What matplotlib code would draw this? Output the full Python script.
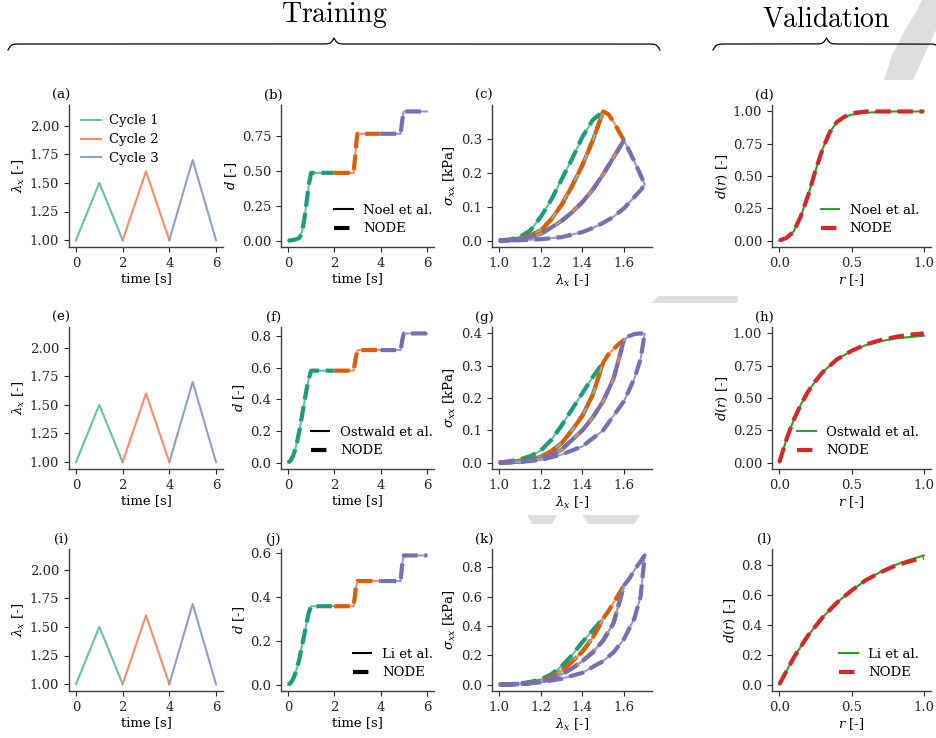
import numpy as np
import matplotlib
matplotlib.use("Agg")
import matplotlib.pyplot as plt
from matplotlib.lines import Line2D
from matplotlib.patches import Polygon

# ------------------------------------------------------------------ data
cycle_labels = ["Cycle 1", "Cycle 2", "Cycle 3"]
model_names = ["Noel et al.", "Ostwald et al.", "Li et al."]
panel_letters = [["(a)", "(b)", "(c)", "(d)"],
                 ["(e)", "(f)", "(g)", "(h)"],
                 ["(i)", "(j)", "(k)", "(l)"]]

# stretch protocol (col 1)
t_cyc = [[0, 1, 2], [2, 3, 4], [4, 5, 6]]
lam_cyc = [[1.0, 1.5, 1.0], [1.0, 1.6, 1.0], [1.0, 1.7, 1.0]]

# damage vs time (col 2)
t_c1 = [0, 0.1, 0.2, 0.3, 0.4, 0.5, 0.6, 0.7, 0.8, 0.9, 1.0, 2.0]
t_c2 = [2.0, 2.83, 2.88, 2.93, 2.97, 3.0, 4.0]
t_c3 = [4.0, 4.86, 4.9, 4.94, 4.97, 5.0, 6.0]

d_noel_c1 = [0, 0.001, 0.003, 0.007, 0.012, 0.02, 0.06, 0.145, 0.27, 0.40, 0.485, 0.485]
d_noel_c2 = [0.485, 0.485, 0.57, 0.66, 0.73, 0.765, 0.765]
d_noel_c3 = [0.765, 0.765, 0.82, 0.87, 0.905, 0.925, 0.925]

d_ost_c1 = [0, 0.01, 0.035, 0.075, 0.135, 0.205, 0.29, 0.375, 0.46, 0.53, 0.58, 0.58]
d_ost_c2 = [0.58, 0.58, 0.62, 0.665, 0.695, 0.71, 0.71]
d_ost_c3 = [0.71, 0.71, 0.745, 0.78, 0.80, 0.815, 0.815]

d_li_c1 = [0, 0.005, 0.02, 0.045, 0.08, 0.12, 0.175, 0.225, 0.28, 0.33, 0.358, 0.358]
d_li_c2 = [0.358, 0.358, 0.40, 0.44, 0.462, 0.473, 0.473]
d_li_c3 = [0.473, 0.473, 0.52, 0.56, 0.58, 0.59, 0.59]

# stress vs stretch (col 3)
lam_to15 = [1.0, 1.05, 1.1, 1.15, 1.2, 1.25, 1.3, 1.35, 1.4, 1.45, 1.5]
lam_15_16 = [1.5, 1.525, 1.55, 1.575, 1.6]
lam_to16 = [1.0, 1.05, 1.1, 1.15, 1.2, 1.25, 1.3, 1.35, 1.4, 1.45, 1.5, 1.55, 1.6]
lam_16_17 = [1.6, 1.625, 1.65, 1.675, 1.7]
lam_unl3 = [1.0, 1.1, 1.2, 1.3, 1.4, 1.45, 1.5, 1.55, 1.6, 1.65, 1.68, 1.7]

s_noel_A = [0, 0.003, 0.011, 0.03, 0.07, 0.12, 0.18, 0.24, 0.305, 0.355, 0.38]
s_noel_B = [0, 0.001, 0.005, 0.015, 0.03, 0.062, 0.105, 0.16, 0.222, 0.295, 0.38]
s_noel_Bx = [0.38, 0.372, 0.35, 0.322, 0.295]
s_noel_C = [0, 0.001, 0.004, 0.01, 0.02, 0.038, 0.058, 0.083, 0.113, 0.15, 0.195, 0.245, 0.295]
s_noel_Cx = [0.295, 0.265, 0.233, 0.2, 0.165]
s_noel_D = [0, 0.001, 0.004, 0.01, 0.025, 0.037, 0.052, 0.07, 0.095, 0.128, 0.148, 0.165]

s_ost_A = [0, 0.004, 0.01, 0.02, 0.037, 0.07, 0.115, 0.165, 0.215, 0.265, 0.31]
s_ost_B = [0, 0.001, 0.004, 0.009, 0.018, 0.035, 0.06, 0.1, 0.145, 0.21, 0.31]
s_ost_Bx = [0.31, 0.335, 0.352, 0.367, 0.38]
s_ost_C = [0, 0.001, 0.003, 0.007, 0.012, 0.024, 0.04, 0.07, 0.1, 0.14, 0.19, 0.26, 0.38]
s_ost_Cx = [0.38, 0.392, 0.398, 0.4, 0.4]
s_ost_D = [0, 0.002, 0.008, 0.025, 0.05, 0.075, 0.1, 0.145, 0.19, 0.26, 0.32, 0.4]

s_li_A = [0, 0.003, 0.008, 0.018, 0.035, 0.07, 0.125, 0.2, 0.29, 0.37, 0.45]
s_li_B = [0, 0.002, 0.005, 0.012, 0.025, 0.05, 0.095, 0.155, 0.225, 0.32, 0.45]
s_li_Bx = [0.45, 0.5, 0.56, 0.615, 0.675]
s_li_C = [0, 0.001, 0.004, 0.01, 0.02, 0.04, 0.07, 0.11, 0.16, 0.22, 0.3, 0.42, 0.675]
s_li_Cx = [0.675, 0.72, 0.78, 0.83, 0.88]
s_li_D = [0, 0.003, 0.015, 0.04, 0.08, 0.12, 0.16, 0.22, 0.31, 0.45, 0.6, 0.88]

# validation damage function (col 4)
r_noel = [0, 0.05, 0.1, 0.15, 0.2, 0.25, 0.3, 0.35, 0.4, 0.45, 0.5, 0.6, 0.7, 0.8, 0.9, 1.0]
dr_noel_ref = [0, 0.02, 0.07, 0.19, 0.35, 0.54, 0.71, 0.84, 0.92, 0.955, 0.975, 0.99, 0.997, 1.0, 1.0, 1.0]
dr_noel_node = [0, 0.02, 0.07, 0.19, 0.35, 0.54, 0.71, 0.84, 0.92, 0.958, 0.985, 1.0, 1.0, 1.0, 1.0, 1.0]

r_ost = [0, 0.05, 0.1, 0.15, 0.2, 0.25, 0.3, 0.4, 0.5, 0.6, 0.7, 0.8, 0.9, 1.0]
dr_ost_ref = [0, 0.18, 0.33, 0.45, 0.55, 0.63, 0.7, 0.8, 0.865, 0.91, 0.94, 0.96, 0.972, 0.982]
dr_ost_node = [0, 0.18, 0.33, 0.45, 0.55, 0.63, 0.7, 0.8, 0.865, 0.915, 0.948, 0.972, 0.99, 1.0]

r_li = [0, 0.1, 0.2, 0.3, 0.4, 0.5, 0.6, 0.7, 0.8, 0.9, 1.0]
dr_li_ref = [0, 0.18, 0.33, 0.45, 0.55, 0.63, 0.7, 0.755, 0.8, 0.835, 0.865]
dr_li_node = [0, 0.18, 0.33, 0.45, 0.55, 0.63, 0.7, 0.752, 0.795, 0.825, 0.85]

# ------------------------------------------------------------------ style
plt.rcParams.update({
    "font.family": "DejaVu Serif",
    "mathtext.fontset": "dejavuserif",
    "font.size": 9.5,
    "axes.edgecolor": "0.25",
    "axes.linewidth": 1.0,
    "xtick.color": "0.15",
    "ytick.color": "0.15",
    "xtick.major.size": 3.5,
    "ytick.major.size": 3.5,
    "xtick.labelsize": 9.5,
    "ytick.labelsize": 9.5,
    "axes.labelsize": 9.5,
    "legend.fontsize": 9.5,
})

set2 = ["#66c2a5", "#fc8d62", "#8da0cb"]
dark2 = ["#1b9e77", "#d95f02", "#7570b3"]
ref_green = "#2ca02c"
node_red = "#d62728"
mark_gray = "#dedede"

W, H = 936, 738
fig = plt.figure(figsize=(W / 100, H / 100), dpi=100)
fig.patch.set_facecolor("white")


def px_poly(pts):
    xy = [(x / W, 1 - y / H) for x, y in pts]
    fig.add_artist(Polygon(xy, closed=True, facecolor=mark_gray, edgecolor="none",
                           transform=fig.transFigure, zorder=-10))


# faint background watermark pieces visible between the panels
px_poly([(936, 0), (936, 30), (913, 80), (884, 80), (892, 55), (905, 30), (917, 10), (922, 0)])
px_poly([(652, 303), (658, 296), (738, 296), (738, 303)])
px_poly([(527, 515), (557, 515), (552, 524), (532, 524)])
px_poly([(582, 515), (640, 515), (634, 524), (588, 524)])

col_left = [69, 281, 492, 772]
col_w = [154, 153, 160, 159]
row_top = [105, 327, 549]
row_h = 142


def add_ax(r, c):
    l = col_left[c] / W
    b = 1 - (row_top[r] + row_h) / H
    ax = fig.add_axes([l, b, col_w[c] / W, row_h / H])
    ax.spines["top"].set_visible(False)
    ax.spines["right"].set_visible(False)
    ax.text(-0.05, 1.07, panel_letters[r][c], transform=ax.transAxes,
            ha="center", va="center", fontsize=9.5)
    return ax


d_time = [(d_noel_c1, d_noel_c2, d_noel_c3),
          (d_ost_c1, d_ost_c2, d_ost_c3),
          (d_li_c1, d_li_c2, d_li_c3)]
stress = [(s_noel_A, s_noel_B, s_noel_Bx, s_noel_C, s_noel_Cx, s_noel_D),
          (s_ost_A, s_ost_B, s_ost_Bx, s_ost_C, s_ost_Cx, s_ost_D),
          (s_li_A, s_li_B, s_li_Bx, s_li_C, s_li_Cx, s_li_D)]
valid = [(r_noel, dr_noel_ref, dr_noel_node),
         (r_ost, dr_ost_ref, dr_ost_node),
         (r_li, dr_li_ref, dr_li_node)]

lw_ref, lw_node = 1.5, 3.0

for r in range(3):
    # ---- col 1: stretch protocol
    ax = add_ax(r, 0)
    for k in range(3):
        ax.plot(t_cyc[k], lam_cyc[k], color=set2[k], lw=lw_ref, label=cycle_labels[k])
    ax.set_ylim(0.94, 2.18)
    ax.set_yticks([1.0, 1.25, 1.5, 1.75, 2.0])
    ax.set_yticklabels(["1.00", "1.25", "1.50", "1.75", "2.00"])
    ax.set_xticks([0, 2, 4, 6])
    ax.set_xlabel("time [s]", labelpad=2)
    ax.set_ylabel(r"$\lambda_x$ [-]", labelpad=2)
    if r == 0:
        ax.legend(loc="upper left", frameon=False, handlelength=1.5,
                  handletextpad=0.6, labelspacing=0.45,
                  bbox_to_anchor=(0.02, 1.0), borderaxespad=0.3)

    # ---- col 2: damage vs time
    ax = add_ax(r, 1)
    tt = [t_c1, t_c2, t_c3]
    for k in range(3):
        ax.plot(tt[k], d_time[r][k], color=set2[k], lw=lw_ref)
        ax.plot(tt[k], d_time[r][k], color=dark2[k], lw=lw_node, ls="--")
    ax.set_xticks([0, 2, 4, 6])
    ax.set_xlabel("time [s]", labelpad=2)
    ax.set_ylabel(r"$d$ [-]", labelpad=2)
    h = [Line2D([], [], color="k", lw=lw_ref), Line2D([], [], color="k", lw=lw_node, ls="--")]
    ax.legend(h, [model_names[r], "NODE"], loc="lower right", frameon=False,
              handlelength=1.4, handletextpad=0.8, labelspacing=0.4,
              bbox_to_anchor=(1.07, 0.0))

    # ---- col 3: stress vs stretch
    ax = add_ax(r, 2)
    sA, sB, sBx, sC, sCx, sD = stress[r]
    paths = [
        (lam_to15 + lam_to15[::-1], sA + sB[::-1]),
        (lam_to15 + lam_15_16 + lam_to16[::-1], sB + sBx + sC[::-1]),
        (lam_to16 + lam_16_17 + lam_unl3[::-1], sC + sCx + sD[::-1]),
    ]
    for k in range(3):
        x, y = paths[k]
        ax.plot(x, y, color=set2[k], lw=lw_ref)
        ax.plot(x, y, color=dark2[k], lw=lw_node, ls="--")
    ax.set_xticks([1.0, 1.2, 1.4, 1.6])
    ax.set_xlabel(r"$\lambda_x$ [-]", labelpad=2)
    ax.set_ylabel(r"$\sigma_{xx}$ [kPa]", labelpad=2)

    # ---- col 4: validation
    ax = add_ax(r, 3)
    rr, dref, dnode = valid[r]
    ax.plot(rr, dref, color=ref_green, lw=lw_ref, label=model_names[r])
    ax.plot(rr, dnode, color=node_red, lw=lw_node, ls="--", label="NODE")
    ax.set_xticks([0.0, 0.5, 1.0])
    ax.set_xlabel(r"$r$ [-]", labelpad=2)
    ax.set_ylabel(r"$d(r)$ [-]", labelpad=2)
    ax.legend(loc="lower right", frameon=False, handlelength=1.4,
              handletextpad=0.8, labelspacing=0.4)


# ------------------------------------------------------------------ braces + titles
def brace(x0, x1, y_flat, dh, beta=0.6):
    L = x1 - x0
    xs = np.linspace(0, L / 2, 300)
    yh = 1 / (1 + np.exp(-beta * xs)) + 1 / (1 + np.exp(-beta * (xs - L / 2)))
    X = np.concatenate([xs, L - xs[::-1]]) + x0
    Y = np.concatenate([yh, yh[::-1]])
    Ypx = y_flat - 2 * dh * (Y - 1)
    fig.add_artist(Line2D(X / W, 1 - Ypx / H, color="k", lw=0.9,
                          transform=fig.transFigure))


brace(8, 660, 44, 6)
brace(713, 940, 44, 6)
fig.text(334 / W, 1 - 15 / H, r"$\mathrm{Training}$", ha="center", va="center",
         fontsize=20, math_fontfamily="cm")
fig.text(826 / W, 1 - 19 / H, r"$\mathrm{Validation}$", ha="center", va="center",
         fontsize=20, math_fontfamily="cm")

fig.savefig("out.png", dpi=100, facecolor="white")
